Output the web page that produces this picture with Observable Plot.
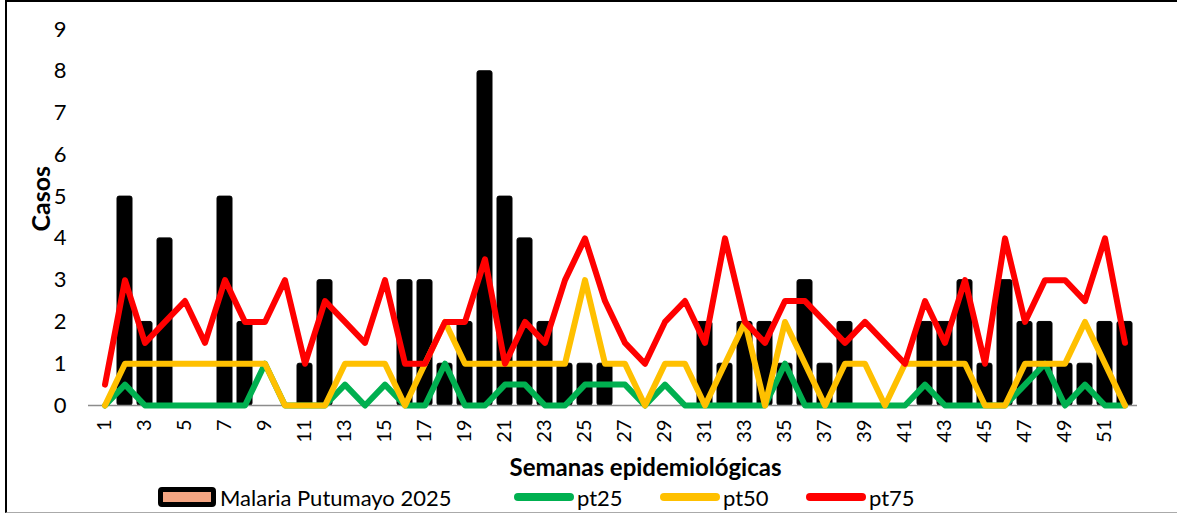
<!DOCTYPE html>
<html>
<head>
<meta charset="utf-8">
<script src="https://cdn.jsdelivr.net/npm/d3@7"></script>
<script src="https://cdn.jsdelivr.net/npm/@observablehq/plot@0.6"></script>
<style>
  html, body { margin: 0; padding: 0; background: #fff; }
  #wrap { position: relative; width: 1177px; height: 514px; overflow: hidden; font-family: Lato, "Open Sans", sans-serif; }
  #border { position: absolute; left: 5px; top: 0; width: 1172px; height: 513px; border-left: 2px solid #000; border-top: 2px solid #000; border-bottom: 1px solid #aaa; box-sizing: border-box; pointer-events: none; }
  #legend { position: relative; height: 28px; font-size: 22px; color: #000; }
  .item { position: absolute; top: -2px; display: flex; align-items: center; height: 26px; }
  .sw-bar { width: 48px; height: 10px; background: #F4A582; border: 5px solid #000; border-radius: 4px; margin-right: 4px; }
  .sw-line { width: 60px; height: 8px; border-radius: 4px; margin-right: 3px; }
</style>
</head>
<body>
<div id="wrap">
  <div id="chart"></div>
  <div id="legend"></div>
  <div id="border"></div>
</div>
<script>
const weeks = d3.range(1, 53);
const casos2025 = [0,5,2,4,0,0,5,2,0,0,1,3,0,0,0,3,3,1,2,8,5,4,2,1,1,1,0,0,0,0,2,1,2,2,1,3,1,2,0,0,0,2,2,3,1,3,2,2,1,1,2,2];
const pt25 = [0,0.5,0,0,0,0,0,0,1,0,0,0,0.5,0,0.5,0,0,1,0,0,0.5,0.5,0,0,0.5,0.5,0.5,0,0.5,0,0,0,0,0,1,0,0,0,0,0,0,0.5,0,0,0,0,0.5,1,0,0.5,0,0];
const pt50 = [0,1,1,1,1,1,1,1,1,0,0,0,1,1,1,0,1,2,1,1,1,1,1,1,3,1,1,0,1,1,0,1,2,0,2,1,0,1,1,0,1,1,1,1,0,0,1,1,1,2,1,0];
const pt75 = [0.5,3,1.5,2,2.5,1.5,3,2,2,3,1,2.5,2,1.5,3,1,1,2,2,3.5,1,2,1.5,3,4,2.5,1.5,1,2,2.5,1.5,4,2,1.5,2.5,2.5,2,1.5,2,1.5,1,2.5,1.5,3,1,4,2,3,3,2.5,4,1.5];
const yTicks = d3.range(0, 10);
const xTickWeeks = weeks.filter(w => w % 2 === 1);
const seriesNames = ["Malaria Putumayo 2025", "pt25", "pt50", "pt75"];
const seriesColors = ["#000000", "#00B050", "#FFC000", "#FF0000"];

const bars = weeks.map((w, i) => ({week: w, value: casos2025[i]}));
const lineData = (arr) => weeks.map((w, i) => ({week: w, value: arr[i]}));

const lineOpts = {x: "week", y: "value", strokeWidth: 6, strokeLinejoin: "round", strokeLinecap: "round"};

const chart = Plot.plot({
  width: 1177,
  height: 486,
  marginLeft: 91,
  marginRight: 40,
  marginTop: 29,
  marginBottom: 81,
  style: {fontFamily: "Lato, 'Open Sans', sans-serif", background: "transparent"},
  x: {type: "band", domain: weeks, padding: 0.25, label: null},
  y: {domain: [0, 9], label: null},
  marks: [
    Plot.barY(bars, {x: "week", y: "value", fill: seriesColors[0], stroke: seriesColors[0], strokeWidth: 1, rx: 2}),
    Plot.ruleY([0], {stroke: "#8c8c8c", strokeWidth: 1.5, insetLeft: -3}),
    Plot.axisY({ticks: yTicks, tickSize: 0, tickPadding: 25, fontSize: 22, tickFormat: d3.format("d"), line: true, stroke: "#8c8c8c", label: null}),
    Plot.axisX({ticks: xTickWeeks, tickSize: 0, tickPadding: 14, tickRotate: -90, fontSize: 20, label: null}),
    Plot.line(lineData(pt25), {...lineOpts, stroke: seriesColors[1]}),
    Plot.line(lineData(pt50), {...lineOpts, stroke: seriesColors[2]}),
    Plot.line(lineData(pt75), {...lineOpts, stroke: seriesColors[3]}),
    Plot.text(["Casos"], {frameAnchor: "left", dx: -50, dy: 14, rotate: -90, fontSize: 25, fontWeight: "bold", lineAnchor: "middle"}),
    Plot.text(["Semanas epidemiológicas"], {frameAnchor: "bottom", dx: 31, dy: 63, fontSize: 24, fontWeight: "bold", lineAnchor: "middle"})
  ]
});
chart.style.display = "block";
document.getElementById("chart").appendChild(chart);

const legendPos = [158, 514, 660, 806];
const legend = document.getElementById("legend");
seriesNames.forEach((name, i) => {
  const item = document.createElement("div");
  item.className = "item";
  item.style.left = legendPos[i] + "px";
  const sw = document.createElement("span");
  if (i === 0) {
    sw.className = "sw-bar";
  } else {
    sw.className = "sw-line";
    sw.style.background = seriesColors[i];
  }
  item.appendChild(sw);
  const label = document.createElement("span");
  label.textContent = name;
  item.appendChild(label);
  legend.appendChild(item);
});
</script>
</body>
</html>
